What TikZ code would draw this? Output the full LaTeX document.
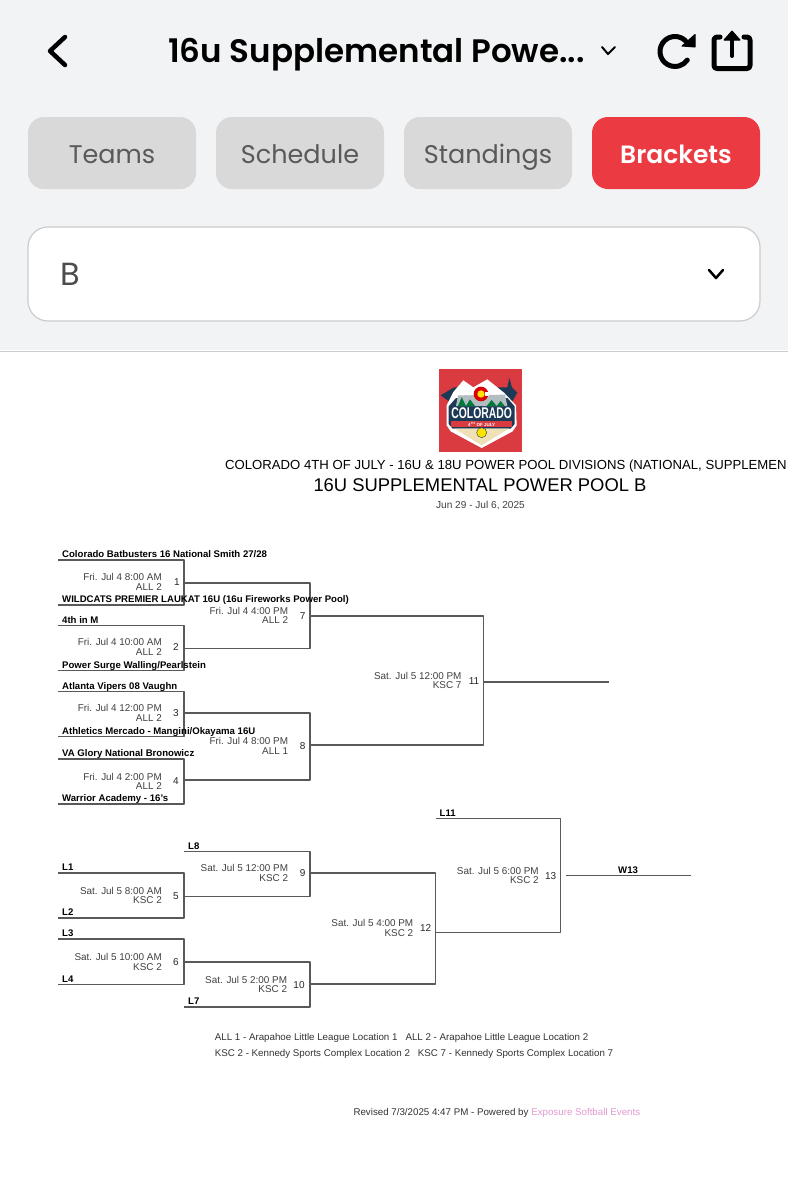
\documentclass[tikz,border=0pt]{standalone}
\usepackage{fontspec}
\usepackage{xcolor}
\usepackage{tikz}
\setmainfont{Liberation Sans}
\newfontfamily\uifont{Poppins}
\newfontfamily\uimedium{Poppins SemiBold}
\usetikzlibrary{positioning}
\definecolor{panelgray}{HTML}{F2F3F5}
\definecolor{tabgray}{HTML}{D9D9D9}
\definecolor{tabred}{HTML}{EC3A42}
\definecolor{logored}{HTML}{D93B40}
\definecolor{logonavy}{HTML}{1C3A55}
\definecolor{linkpink}{HTML}{E39AD0}

\begin{document}
\begin{tikzpicture}[x=1pt, y=-1pt, line join=round,
    bracket/.style={draw=black!65, line width=1.1pt},
    icon/.style={draw=black, line cap=round, line join=round},
    tabbox/.style={minimum width=168pt, minimum height=72pt, rounded corners=16pt, fill=tabgray, text=black!65, inner sep=0pt, outer sep=0pt, text height=20pt, text depth=0pt, font=\uifont\fontsize{25.5}{25.5}\selectfont},
    team/.style={anchor=base west, inner sep=0pt, xshift=4pt, yshift=2.5pt, font=\bfseries\fontsize{9.6}{9.6}\selectfont},
    num/.style={inner sep=0pt, text=black!85, font=\fontsize{10}{10}\selectfont},
    gametime/.style={inner sep=0pt, align=right, text=black!75, font=\fontsize{9.9}{9.4}\selectfont},
    note/.style={anchor=west, inner sep=0pt, text=black!80, font=\fontsize{9.75}{9.75}\selectfont}]
    \useasboundingbox (0,0) rectangle (788,1200);
    \fill[white] (0,0) rectangle (788,1200);

    % App header
    \fill[panelgray] (0,0) rectangle (788,350);
    \draw[black!20, line width=1pt] (0,351) -- (788,351);
    \draw[icon, line width=4.5pt] (65,37) -- (50,51) -- (65,65);
    \node[anchor=base west, inner sep=0pt, font=\uimedium\fontsize{32.5}{32.5}\selectfont] (header) at (168,62) {16u Supplemental Powe...};
    \draw[icon, line width=2pt] (602,47) -- (608,54) -- (615,47);
    \draw[icon, line width=5pt] (675,51.5) ++(-45:15) arc[start angle=-45, end angle=-325, radius=15];
    \filldraw[icon, line width=1pt] (695,34.5) -- (695,47) -- (682,46) -- cycle;
    \draw[icon, line width=5pt, rounded corners=3pt] (720,37) -- (714,37) -- (714,68.5) -- (750,68.5) -- (750,37) -- (744,37);
    \draw[icon, line width=4pt] (732,56) -- (732,36);
    \filldraw[icon, line width=1pt] (732,31) -- (740,40) -- (724,40) -- cycle;

    % Tabs
    \node[tabbox] (teams) at (112,153) {Teams};
    \node[tabbox, right=20pt of teams] (schedule) {Schedule};
    \node[tabbox, right=20pt of schedule] (standings) {Standings};
    \node[tabbox, right=20pt of standings, fill=tabred, text=white, font=\uimedium\fontsize{25}{25}\selectfont] (brackets) {Brackets};

    % Dropdown
    \draw[black!20, fill=white, line width=1.2pt, rounded corners=20pt] (28,227) rectangle (760,321);
    \node[anchor=west, inner sep=0pt, text=black!70, font=\uifont\fontsize{32}{32}\selectfont] (pool) at (60,274) {B};
    \draw[icon, line width=2.5pt] (709,270) -- (716,278) -- (723,270);

    % Logo
    \begin{scope}[shift={(430,362)}, scale=1/3]
        \fill[logored] (27,21) rectangle (275,270);
        \fill[logonavy] (32,100) -- (72,76) -- (232,76) -- (238,48) -- (246,76) -- (262,92) -- (246,120) -- (60,120) -- cycle;
        \fill[white] (50,130) -- (70,90) -- (100,55) -- (130,76) -- (172,52) -- (222,92) -- (258,130) -- (260,190) -- (248,208) -- (155,258) -- (62,208) -- (50,190) -- cycle;
        \fill[logonavy] (56,133) -- (78,108) -- (232,108) -- (254,133) -- (254,186) -- (242,200) -- (68,200) -- (56,186) -- cycle;
        \fill[black!25!cyan!20!gray!60] (78,132) -- (84,100) -- (225,98) -- (232,132) -- cycle;
        \fill[white] (72,98) -- (100,62) -- (130,88) -- (172,60) -- (218,96) -- (170,85) -- (120,100) -- cycle;
        \fill[green!35!teal!70!black] (84,132) -- (95,106) -- (108,132) -- (120,112) -- (135,132) -- cycle;
        \fill[green!35!teal!70!black] (170,132) -- (185,114) -- (200,132) -- (212,117) -- (224,132) -- cycle;
        \fill[red!85!black] (153,96) circle (22);
        \fill[yellow!85!orange] (153,96) circle (11);
        \fill[white] (166,90) rectangle (178,102);
        \fill[logored] (64,178) rectangle (246,196);
        \fill[yellow!30!brown!35!white] (74,200) -- (236,200) -- (155,250) -- cycle;
        \fill[yellow!85!orange, draw=logonavy] (155,212) circle (15);
        \node[inner sep=0pt, text=white, font=\bfseries\fontsize{15.5}{15.5}\selectfont] (logotitle) at (155,153) {\scalebox{.67}[1]{COLORADO}};
        \node[inner sep=0pt, text=white, font=\bfseries\fontsize{4.5}{4.5}\selectfont] (logodate) at (155,187) {4\textsuperscript{TH} OF JULY};
    \end{scope}

    % Titles
    \node[anchor=west, inner sep=0pt, font=\fontsize{13.15}{13.15}\selectfont] (event) at (225,466.5) {COLORADO 4TH OF JULY - 16U \& 18U POWER POOL DIVISIONS (NATIONAL, SUPPLEMEN};
    \node[inner sep=0pt, font=\fontsize{18.4}{18.4}\selectfont] (division) at (480,485) {16U SUPPLEMENTAL POWER POOL B};
    \node[inner sep=0pt, text=black!75, font=\fontsize{10.1}{10.1}\selectfont] (dates) at (480.5,505) {Jun 29 - Jul 6, 2025};

    % Bracket points
    \coordinate (t1) at (58,560);
    \coordinate (t2) at (58,605);
    \coordinate (t3) at (58,625.7);
    \coordinate (t4) at (58,670.7);
    \coordinate (t5) at (58,691.7);
    \coordinate (t6) at (58,736.7);
    \coordinate (t7) at (58,759);
    \coordinate (t8) at (58,804);
    \coordinate (l1) at (58,873);
    \coordinate (l2) at (58,918);
    \coordinate (l3) at (58,939);
    \coordinate (l4) at (58,984.7);
    \coordinate (l8) at (184,851.7);
    \coordinate (l7) at (184,1007);
    \coordinate (l11) at (435.5,818.7);
    \coordinate (g1) at (184,583);
    \coordinate (g2) at (184,648.5);
    \coordinate (g3) at (184,713);
    \coordinate (g4) at (184,780);
    \coordinate (g5) at (184,896.7);
    \coordinate (g6) at (184,962);
    \coordinate (g7) at (310,616);
    \coordinate (g8) at (310,745);
    \coordinate (g9) at (310,873);
    \coordinate (g10) at (310,984);
    \coordinate (g11) at (483.7,682);
    \coordinate (g12) at (435.7,932.7);
    \coordinate (g13) at (560.7,875.7);
    \coordinate (end11) at (608.7,682);
    \coordinate (w13a) at (566,875.7);
    \coordinate (w13b) at (691,875.7);

    % Upper bracket
    \draw[bracket] (t1) -| (g1);
    \draw[bracket] (t2) -| (g1);
    \draw[bracket] (t3) -| (g2);
    \draw[bracket] (t4) -| (g2);
    \draw[bracket] (t5) -| (g3);
    \draw[bracket] (t6) -| (g3);
    \draw[bracket] (t7) -| (g4);
    \draw[bracket] (t8) -| (g4);
    \draw[bracket] (g1) -| (g7);
    \draw[bracket] (g2) -| (g7);
    \draw[bracket] (g3) -| (g8);
    \draw[bracket] (g4) -| (g8);
    \draw[bracket] (g7) -| (g11);
    \draw[bracket] (g8) -| (g11);
    \draw[bracket] (g11) -- (end11);

    % Lower bracket
    \draw[bracket] (l1) -| (g5);
    \draw[bracket] (l2) -| (g5);
    \draw[bracket] (l3) -| (g6);
    \draw[bracket] (l4) -| (g6);
    \draw[bracket] (l8) -| (g9);
    \draw[bracket] (g5) -| (g9);
    \draw[bracket] (g6) -| (g10);
    \draw[bracket] (l7) -| (g10);
    \draw[bracket] (g9) -| (g12);
    \draw[bracket] (g10) -| (g12);
    \draw[bracket] (l11) -| (g13);
    \draw[bracket] (g12) -| (g13);
    \draw[bracket] (w13a) -- (w13b);

    % Teams
    \node[team] (team1) at (t1) {Colorado Batbusters 16 National Smith 27/28};
    \node[team] (team2) at (t2) {WILDCATS PREMIER LAUKAT 16U (16u Fireworks Power Pool)};
    \node[team] (team3) at (t3) {4th in M};
    \node[team] (team4) at (t4) {Power Surge Walling/Pearlstein};
    \node[team] (team5) at (t5) {Atlanta Vipers 08 Vaughn};
    \node[team] (team6) at (t6) {Athletics Mercado - Mangini/Okayama 16U};
    \node[team] (team7) at (t7) {VA Glory National Bronowicz};
    \node[team] (team8) at (t8) {Warrior Academy - 16's};
    \node[team] (lab1) at (l1) {L1};
    \node[team] (lab2) at (l2) {L2};
    \node[team] (lab3) at (l3) {L3};
    \node[team] (lab4) at (l4) {L4};
    \node[team] (lab8) at (l8) {L8};
    \node[team] (lab7) at (l7) {L7};
    \node[team] (lab11) at (l11) {L11};
    \node[team, xshift=48pt] (labw) at (w13a) {W13};

    % Game numbers and times
    \node[num] (n1) at (177,582) {1};
    \node[gametime, left=12pt of n1] (time1) {Fri. Jul 4 8:00 AM\\ALL 2};
    \node[num] (n2) at (176,647) {2};
    \node[gametime, left=11pt of n2] (time2) {Fri. Jul 4 10:00 AM\\ALL 2};
    \node[num] (n3) at (176,713) {3};
    \node[gametime, left=11pt of n3] (time3) {Fri. Jul 4 12:00 PM\\ALL 2};
    \node[num] (n4) at (176,781.5) {4};
    \node[gametime, left=11pt of n4] (time4) {Fri. Jul 4 2:00 PM\\ALL 2};
    \node[num] (n5) at (176,895.7) {5};
    \node[gametime, left=11pt of n5] (time5) {Sat. Jul 5 8:00 AM\\KSC 2};
    \node[num] (n6) at (176,962) {6};
    \node[gametime, left=11pt of n6] (time6) {Sat. Jul 5 10:00 AM\\KSC 2};
    \node[num] (n7) at (302.7,615.7) {7};
    \node[gametime, left=11.5pt of n7] (time7) {Fri. Jul 4 4:00 PM\\ALL 2};
    \node[num] (n8) at (302.7,746) {8};
    \node[gametime, left=11.5pt of n8] (time8) {Fri. Jul 4 8:00 PM\\ALL 1};
    \node[num] (n9) at (302.7,873) {9};
    \node[gametime, left=11.5pt of n9] (time9) {Sat. Jul 5 12:00 PM\\KSC 2};
    \node[num] (n10) at (299,984.7) {10};
    \node[gametime, left=6pt of n10] (time10) {Sat. Jul 5 2:00 PM\\KSC 2};
    \node[num] (n11) at (474,680.7) {11};
    \node[gametime, left=7pt of n11] (time11) {Sat. Jul 5 12:00 PM\\KSC 7};
    \node[num] (n12) at (425.7,928) {12};
    \node[gametime, left=6.5pt of n12] (time12) {Sat. Jul 5 4:00 PM\\KSC 2};
    \node[num] (n13) at (550.7,875.7) {13};
    \node[gametime, left=6pt of n13] (time13) {Sat. Jul 5 6:00 PM\\KSC 2};

    % Legend
    \node[note] (legend1) at (214.7,1037.7) {ALL 1 - Arapahoe Little League Location 1\hspace{8pt}ALL 2 - Arapahoe Little League Location 2};
    \node[note] (legend2) at (214.7,1053.7) {KSC 2 - Kennedy Sports Complex Location 2\hspace{8pt}KSC 7 - Kennedy Sports Complex Location 7};
    \node[note] (revised) at (353.3,1113.3) {Revised 7/3/2025 4:47 PM - Powered by \textcolor{linkpink}{Exposure Softball Events}};
\end{tikzpicture}
\end{document}
